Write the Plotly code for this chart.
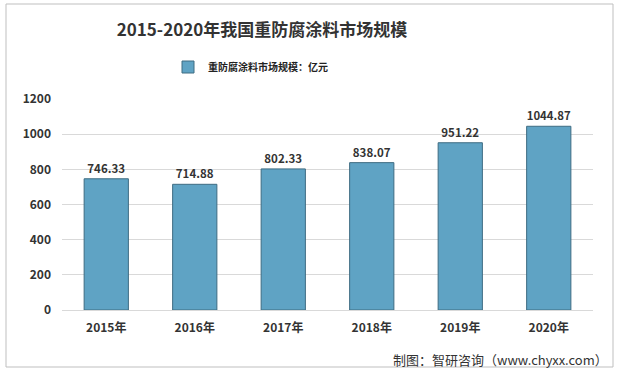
import plotly.graph_objects as go

years = ["2015年", "2016年", "2017年", "2018年", "2019年", "2020年"]
values = [746.33, 714.88, 802.33, 838.07, 951.22, 1044.87]
value_labels = ["746.33", "714.88", "802.33", "838.07", "951.22", "1044.87"]
y_ticks = [0, 200, 400, 600, 800, 1000, 1200]

font_family = "Noto Sans CJK SC, Noto Sans, sans-serif"

fig = go.Figure()
fig.add_trace(go.Bar(
    x=years, y=values,
    name="<b>重防腐涂料市场规模：亿元</b>",
    marker=dict(color="#5fa3c4", line=dict(color="#3e6c82", width=1)),
    width=0.5,
    text=["<b>%s</b>" % v for v in value_labels], textposition="outside", cliponaxis=False,
    textfont=dict(size=11.5, color="#333333", family=font_family),
))

fig.update_layout(
    width=618, height=373,
    margin=dict(l=62, r=25, t=99, b=63),
    paper_bgcolor="white", plot_bgcolor="white",
    font=dict(family=font_family, color="#333333"),
    title=dict(text="<b>2015-2020年我国重防腐涂料市场规模</b>", x=262/618, xanchor="center",
               y=1 - 30/373, yanchor="middle", font=dict(size=17, color="#333333")),
    showlegend=True,
    legend=dict(orientation="h", x=(168-62)/531, xanchor="left", y=(310-67)/211, yanchor="middle",
                font=dict(size=10, color="#222222"), itemwidth=30),
    bargap=0.5,
    xaxis=dict(showgrid=False, showline=True, linecolor="#d9d9d9", ticks="",
               tickvals=years, ticktext=["<b>%s</b>" % y for y in years],
               ticklabelstandoff=7,
               tickfont=dict(size=12, color="#333333")),
    yaxis=dict(range=[0, 1200], tickvals=y_ticks, ticktext=["<b>%d</b>" % t for t in y_ticks],
               showgrid=True, gridcolor="#d9d9d9",
               zeroline=False, showline=False, ticks="", ticklabelstandoff=10,
               tickfont=dict(size=12, color="#333333")),
    shapes=[dict(type="rect", xref="paper", yref="paper",
                 x0=-56/531, x1=(613-62)/531, y0=-(367-310)/211, y1=(310-4)/211,
                 line=dict(color="#bfbfbf", width=1), layer="below")],
    annotations=[dict(text="制图：智研咨询（www.chyxx.com）", xref="paper", yref="paper",
                      x=(610-62)/531, xanchor="right", y=-(359-310)/211, yanchor="middle",
                      showarrow=False, font=dict(size=13, color="#333333"))],
)

fig.write_html("out.html", config={"displayModeBar": False},
               post_script="document.body.style.margin='0px';")
